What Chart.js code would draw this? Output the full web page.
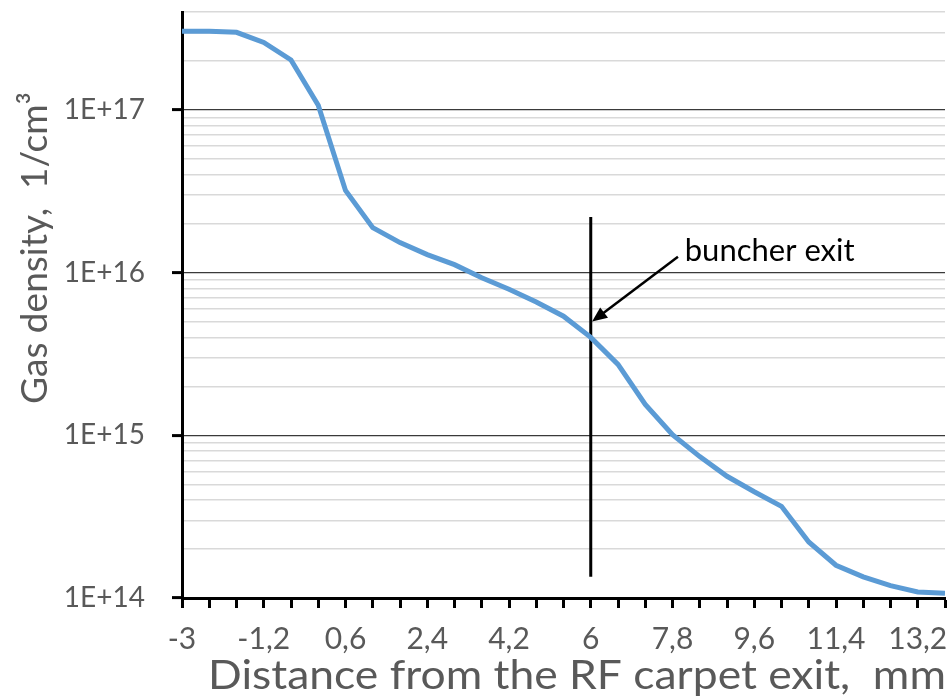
<!DOCTYPE html>
<html>
<head>
<meta charset="utf-8">
<script src="https://cdn.jsdelivr.net/npm/chart.js"></script>
<style>
  html, body { margin: 0; padding: 0; background: #fff; }
  #wrap { width: 950px; height: 699px; }
</style>
</head>
<body>
<div id="wrap"><canvas id="gasChart" width="950" height="699"></canvas></div>
<script>
// distance from the RF carpet exit, mm
const distance = [-3, -2.4, -1.8, -1.2, -0.6, 0, 0.6, 1.2, 1.8, 2.4, 3, 3.6, 4.2, 4.8, 5.4,
    6, 6.6, 7.2, 7.8, 8.4, 9, 9.6, 10.2, 10.8, 11.4, 12, 12.6, 13.2, 13.8];
// gas density, 1/cm3
const density = [3.05e17, 3.05e17, 3.0e17, 2.6e17, 2.03e17, 1.07e17, 3.2e16, 1.89e16, 1.53e16,
    1.29e16, 1.12e16, 9.3e15, 7.9e15, 6.6e15, 5.4e15, 4.0e15, 2.73e15, 1.55e15, 1.01e15,
    7.4e14, 5.6e14, 4.5e14, 3.66e14, 2.21e14, 1.59e14, 1.35e14, 1.19e14, 1.09e14, 1.07e14];
// buncher exit marker
const buncherX = [6, 6];
const buncherY = [2.2e16, 1.35e14];
// y axis ticks (decades get labels)
const decades = [1e14, 1e15, 1e16, 1e17];
const minorSteps = [2, 3, 4, 5, 6, 7, 8, 9];
const yMax = 4e17;

const yTicks = [];
decades.forEach(d => {
    yTicks.push(d);
    minorSteps.forEach(m => { if (d * m <= yMax * 1.0001) yTicks.push(d * m); });
});

function isDecade(v) {
    return decades.some(d => Math.abs(v - d) / d < 1e-6);
}
function fmtComma(v) {
    return String(Math.round(v * 10) / 10).replace('.', ',');
}

const FONT = 'Lato, "Open Sans", sans-serif';
const GREY = '#595959';

// arrow + label for the buncher exit, axis titles
const notesPlugin = {
    id: 'notes',
    afterDatasetsDraw(chart) {
        const { ctx, scales: { x, y } } = chart;
        const x0 = x.getPixelForValue(7.92), y0 = y.getPixelForValue(1.25e16);
        const x1 = x.getPixelForValue(6.03), y1 = y.getPixelForValue(5.0e15);
        const ang = Math.atan2(y1 - y0, x1 - x0);
        ctx.save();
        ctx.strokeStyle = '#000';
        ctx.fillStyle = '#000';
        ctx.lineWidth = 2.5;
        ctx.beginPath();
        ctx.moveTo(x0, y0);
        ctx.lineTo(x1 - 10 * Math.cos(ang), y1 - 10 * Math.sin(ang));
        ctx.stroke();
        ctx.beginPath();
        ctx.moveTo(x1, y1);
        ctx.lineTo(x1 - 15 * Math.cos(ang) + 6.5 * Math.sin(ang), y1 - 15 * Math.sin(ang) - 6.5 * Math.cos(ang));
        ctx.lineTo(x1 - 15 * Math.cos(ang) - 6.5 * Math.sin(ang), y1 - 15 * Math.sin(ang) + 6.5 * Math.cos(ang));
        ctx.closePath();
        ctx.fill();
        ctx.font = '31px ' + FONT;
        ctx.textBaseline = 'middle';
        ctx.textAlign = 'left';
        ctx.fillText('buncher exit', x.getPixelForValue(8.07), y.getPixelForValue(1.35e16));
        ctx.restore();

        // axis titles, placed where the original has them
        ctx.save();
        ctx.fillStyle = GREY;
        ctx.textAlign = 'center';
        ctx.textBaseline = 'middle';
        ctx.translate(577, 676);
        ctx.scale(1.11, 1);
        ctx.font = '40px ' + FONT;
        ctx.fillText('Distance from the RF carpet exit,  mm', 0, 0);
        ctx.restore();

        ctx.save();
        ctx.fillStyle = GREY;
        ctx.textAlign = 'center';
        ctx.textBaseline = 'middle';
        ctx.translate(35, 248);
        ctx.rotate(-Math.PI / 2);
        ctx.font = '37px ' + FONT;
        ctx.fillText('Gas density,  1/cm\u00b3', 0, 0);
        ctx.restore();
    }
};

const ctx = document.getElementById('gasChart').getContext('2d');
new Chart(ctx, {
    type: 'line',
    data: {
        datasets: [{
            data: distance.map((d, i) => ({ x: d, y: density[i] })),
            borderColor: '#5b9bd5',
            borderWidth: 5,
            pointRadius: 0,
            tension: 0
        }, {
            data: buncherX.map((d, i) => ({ x: d, y: buncherY[i] })),
            borderColor: '#000',
            borderWidth: 3,
            pointRadius: 0
        }]
    },
    options: {
        responsive: false,
        animation: false,
        layout: { padding: { top: 12, right: 5, left: 0, bottom: 0 } },
        plugins: { legend: { display: false }, tooltip: { enabled: false } },
        scales: {
            x: {
                type: 'linear',
                min: -3,
                max: 13.8,
                afterBuildTicks: s => { s.ticks = distance.map(v => ({ value: v })); },
                afterFit: s => { s.height = 101; s.paddingLeft = 0; s.paddingRight = 0; },
                border: { display: true, color: '#000', width: 3 },
                grid: { drawOnChartArea: false, drawTicks: true, tickLength: 10, tickColor: '#000', tickWidth: 3 },
                ticks: {
                    autoSkip: false,
                    maxRotation: 0,
                    padding: 13,
                    color: GREY,
                    font: { family: FONT, size: 30 },
                    callback: (v, i) => (i % 3 === 0 ? fmtComma(v) : '')
                },
                title: { display: false }
            },
            y: {
                type: 'logarithmic',
                min: 1e14,
                max: yMax,
                afterBuildTicks: s => { s.ticks = yTicks.map(v => ({ value: v })); },
                afterFit: s => { s.width = 182; s.paddingTop = 0; s.paddingBottom = 0; },
                border: { display: true, color: '#000', width: 3 },
                grid: {
                    color: c => (c.tick && isDecade(c.tick.value) ? '#3a3a3a' : '#d9d9d9'),
                    lineWidth: c => (c.tick && isDecade(c.tick.value) ? 1.2 : 1.5),
                    tickColor: c => (c.tick && isDecade(c.tick.value) ? '#000' : 'rgba(0,0,0,0)'),
                    tickWidth: 3,
                    tickLength: 10
                },
                ticks: {
                    autoSkip: false,
                    padding: 27,
                    color: GREY,
                    font: { family: FONT, size: 28 },
                    callback: v => (isDecade(v) ? '1E+' + Math.round(Math.log10(v)) : '')
                },
                title: { display: false }
            }
        }
    },
    plugins: [notesPlugin]
});
</script>
</body>
</html>
